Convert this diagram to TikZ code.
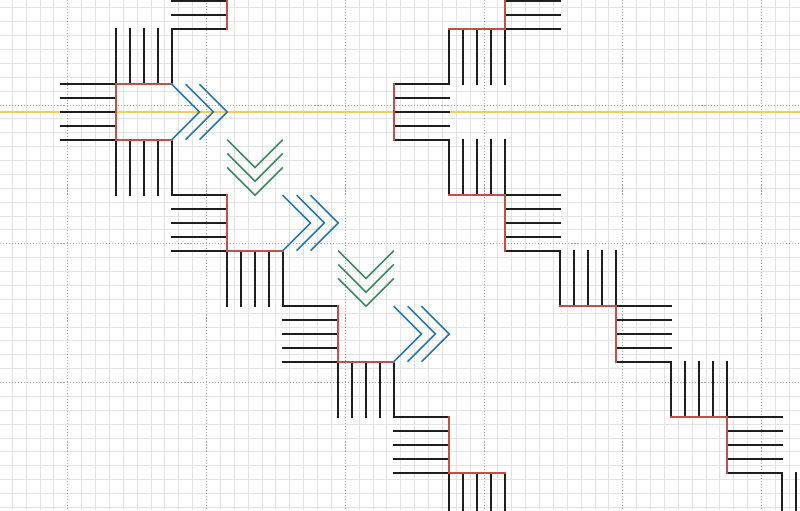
\documentclass[tikz,border=0pt]{standalone}
\definecolor{gridminor}{HTML}{E3E3E3}
\definecolor{gridmajor}{HTML}{A5A5A5}
\definecolor{guide}{HTML}{F0CF5E}
\definecolor{combblack}{HTML}{1E1E1E}
\definecolor{combred}{HTML}{C2504A}
\definecolor{chevblue}{HTML}{2A76AE}
\definecolor{chevgreen}{HTML}{3D8A60}
\tikzset{
  minorgrid/.style={draw=gridminor, line width=0.9pt},
  majorgrid/.style={draw=gridmajor, line width=0.9pt, dash pattern=on 1.1pt off 2pt},
  guideline/.style={draw=guide, line width=1.7pt},
  tooth/.style={draw=combblack, line width=1.9pt, line cap=rect},
  spine/.style={draw=combred, line width=1.7pt, line cap=rect},
  bluechev/.style={draw=chevblue, line width=1.6pt, line join=miter},
  greenchev/.style={draw=chevgreen, line width=1.6pt, line join=miter}
}
% vertical comb: left x, top y, y of red edge
\newcommand{\myvcomb}[3]{%
  \foreach \i in {0,...,4} {\draw[tooth] (#1+\i,#2) -- (#1+\i,#2+4);}
  \draw[spine] (#1,#3) -- (#1+4,#3);}
% horizontal comb: left x, top y, x of red edge
\newcommand{\myhcomb}[3]{%
  \foreach \i in {0,...,4} {\draw[tooth] (#1,#2+\i) -- (#1+4,#2+\i);}
  \draw[spine] (#3,#2) -- (#3,#2+4);}
\begin{document}
\begin{tikzpicture}[x=0.5cm, y=-0.5cm]
  \useasboundingbox (-4.879,-7.568) rectangle (52.778,29.189);
  \fill[white] (-4.879,-7.568) rectangle (52.778,29.189);
  % grid
  \foreach \gx in {-4,...,52} {\pgfmathtruncatemacro{\r}{mod(\gx+100,10)}
    \ifnum\r=0 \else \draw[minorgrid] (\gx,-7.568) -- (\gx,29.189); \fi}
  \foreach \gy in {-7,...,29} {\pgfmathtruncatemacro{\r}{mod(\gy+100,10)}
    \ifnum\r=0 \else \draw[minorgrid] (-4.879,\gy) -- (52.778,\gy); \fi}
  \foreach \gx in {0,10,...,50} {\draw[majorgrid] (\gx,-7.568) -- (\gx,29.189);}
  \foreach \gy in {0,10,20} {\draw[majorgrid] (-4.879,\gy) -- (52.778,\gy);}
  % yellow guide
  \coordinate (gl) at (-4.879,0.5);
  \coordinate (gr) at (52.778,0.5);
  \draw[guideline] (gl) -- (gr);
  % left figure
  \myhcomb{-0.5}{-1.5}{3.5}
  \myvcomb{3.5}{-5.5}{-1.5}
  \myhcomb{7.5}{-9.5}{11.5}
  \myvcomb{3.5}{2.5}{2.5}
  \myhcomb{7.5}{6.5}{11.5}
  \myvcomb{11.5}{10.5}{10.5}
  \myhcomb{15.5}{14.5}{19.5}
  \myvcomb{19.5}{18.5}{18.5}
  \myhcomb{23.5}{22.5}{27.5}
  \myvcomb{27.5}{26.5}{26.5}
  % right figure
  \myhcomb{23.5}{-1.5}{23.5}
  \myvcomb{27.5}{-5.5}{-5.5}
  \myhcomb{31.5}{-9.5}{31.5}
  \myvcomb{27.5}{2.5}{6.5}
  \myhcomb{31.5}{6.5}{31.5}
  \myvcomb{35.5}{10.5}{14.5}
  \myhcomb{39.5}{14.5}{39.5}
  \myvcomb{43.5}{18.5}{22.5}
  \myhcomb{47.5}{22.5}{47.5}
  \myvcomb{51.5}{26.5}{30.5}
  % chevrons
  \foreach \k in {0,1,2} {\foreach \j in {0,1,2} {
    \draw[bluechev] (7.5+8*\k+\j,-1.5+8*\k) -- (9.5+8*\k+\j,0.5+8*\k) -- (7.5+8*\k+\j,2.5+8*\k);}}
  \foreach \k in {0,1} {\foreach \j in {0,1,2} {
    \draw[greenchev] (11.5+8*\k,2.5+8*\k+\j) -- (13.5+8*\k,4.5+8*\k+\j) -- (15.5+8*\k,2.5+8*\k+\j);}}
\end{tikzpicture}
\end{document}
